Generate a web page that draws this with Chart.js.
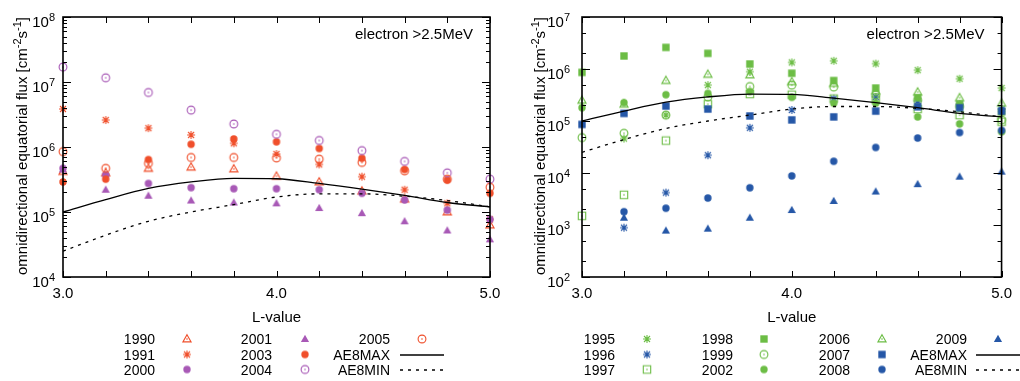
<!doctype html>
<html>
<head>
<meta charset="utf-8">
<title>electron &gt;2.5MeV</title>
<script src="https://cdn.jsdelivr.net/npm/chart.js@4.4.0/dist/chart.umd.min.js"></script>
<style>
  body { margin:0; background:#fff; width:1020px; height:381px; overflow:hidden; position:relative; }
  canvas { position:absolute; top:0; }
</style>
</head>
<body>
<canvas id="vasak" width="510" height="381" style="left:0"></canvas>
<canvas id="parem" width="510" height="381" style="left:510px"></canvas>
<script>
// L-values (x axis)
const L = [3.0, 3.2, 3.4, 3.6, 3.8, 4.0, 4.2, 4.4, 4.6, 4.8, 5.0];

// left panel
const y1990 = [4.2e5, 4.0e5, 4.7e5, 4.9e5, 4.6e5, 3.55e5, 2.9e5, 2.1e5, 1.58e5, 1.0e5, 6.3e4];
const y1991 = [3.85e6, 2.6e6, 1.95e6, 1.53e6, 1.14e6, 7.8e5, 5.4e5, 3.5e5, 2.2e5, 1.36e5, 7.7e4];
const y2000 = [4.7e5, 3.7e5, 2.75e5, 2.37e5, 2.28e5, 2.28e5, 2.2e5, 1.94e5, 1.53e5, 1.07e5, 7.7e4];
const y2001 = [4.5e5, 2.2e5, 1.78e5, 1.5e5, 1.4e5, 1.36e5, 1.15e5, 9.6e4, 7.2e4, 5.2e4, 3.8e4];
const y2003 = [2.9e5, 3.2e5, 6.4e5, 1.1e6, 1.33e6, 1.2e6, 9.5e5, 6.7e5, 4.5e5, 3.1e5, 1.94e5];
const y2004 = [1.7e7, 1.16e7, 6.9e6, 3.7e6, 2.26e6, 1.57e6, 1.26e6, 8.8e5, 6.0e5, 4.0e5, 3.2e5];
const y2005 = [8.5e5, 4.7e5, 5.6e5, 6.9e5, 6.9e5, 6.8e5, 6.5e5, 5.8e5, 4.3e5, 3.2e5, 2.4e5];

// right panel
const y1995 = [null, 4.6e4, 1.3e5, 4.9e5, 8.9e5, 1.34e6, 1.44e6, 1.27e6, 9.5e5, 6.5e5, 4.3e5];
const y1996 = [null, 890, 4.2e3, 2.2e4, 7.4e4, 1.63e5, 2.7e5, 2.9e5, 2.4e5, 2.1e5, 1.7e5];
const y1997 = [1.5e3, 3.8e3, 4.2e4, 2.1e5, 3.3e5, 3.2e5, 2.7e5, 2.6e5, 1.7e5, 1.3e5, 9.7e4];
const y1998 = [8.6e5, 1.78e6, 2.6e6, 2.0e6, 1.25e6, 8.3e5, 6.0e5, 4.3e5, 2.8e5, 2.1e5, 1.5e5];
const y1999 = [4.8e4, 5.8e4, 1.3e5, 2.9e5, 4.6e5, 4.9e5, 4.5e5, 3.2e5, 2.5e5, 1.9e5, 1.05e5];
const y2002 = [1.8e5, 2.25e5, 3.2e5, 3.4e5, 3.7e5, 2.85e5, 2.2e5, 2.2e5, 1.2e5, 8.8e4, 6.2e4];
const y2006 = [2.5e5, 2.1e5, 6.0e5, 7.9e5, 7.7e5, 5.7e5, 5.3e5, 3.8e5, 3.6e5, 2.8e5, 2.2e5];
const y2007 = [8.6e4, 1.4e5, 1.94e5, 1.7e5, 1.25e5, 1.05e5, 1.2e5, 1.55e5, 1.88e5, 1.8e5, 1.55e5];
const y2008 = [null, 1.8e3, 2.1e3, 3.3e3, 5.2e3, 8.8e3, 1.68e4, 3.1e4, 4.7e4, 6.0e4, 6.6e4];
const y2009 = [null, 1.38e3, 780, 850, 1.38e3, 1.94e3, 2.9e3, 4.4e3, 6.1e3, 8.5e3, 1.06e4];

// AE8 model curves (same in both panels)
const AE8MAX = [1.0e5, 1.55e5, 2.3e5, 2.9e5, 3.3e5, 3.25e5, 2.75e5, 2.25e5, 1.8e5, 1.4e5, 1.2e5];
const AE8MIN = [2.5e4, 4.4e4, 7.2e4, 1.0e5, 1.3e5, 1.7e5, 1.9e5, 1.9e5, 1.75e5, 1.5e5, 1.2e5];

const FONT = '"Liberation Sans", Arial, Helvetica, sans-serif';
const RED = '#f04f2b', PURPLE = '#a859b6', GREEN = '#6cbd45', BLUE = '#2557a7';

// gnuplot-like point symbols
function marker(kuju, varv, tais) {
  const c = document.createElement('canvas');
  c.width = c.height = 14;
  const g = c.getContext('2d');
  g.translate(7, 7);
  g.strokeStyle = varv; g.fillStyle = varv; g.lineWidth = 1.1;
  g.beginPath();
  if (kuju === 'circle') g.arc(0, 0, tais ? 3.7 : 3.9, 0, Math.PI * 2);
  else if (kuju === 'square') g.rect(-3.7, -3.7, 7.4, 7.4);
  else if (kuju === 'tri') { g.moveTo(0, -4.3); g.lineTo(4.1, 2.9); g.lineTo(-4.1, 2.9); g.closePath(); }
  else if (kuju === 'star') {
    g.moveTo(-4, 0); g.lineTo(4, 0); g.moveTo(0, -4); g.lineTo(0, 4);
    g.moveTo(-3, -3); g.lineTo(3, 3); g.moveTo(-3, 3); g.lineTo(3, -3);
  }
  if (tais) g.fill(); else g.stroke();
  if (!tais && kuju !== 'star') { g.beginPath(); g.arc(0, 0, 0.8, 0, Math.PI * 2); g.fill(); }
  return c;
}

const pts = arr => L.map((x, i) => ({ x: x, y: arr[i] })).filter(p => p.y != null);

function punktid(label, arr, kuju, varv, tais) {
  return { label: label, data: pts(arr), sym: marker(kuju, varv, tais), kind: 'p' };
}
function joon(label, arr, dash) {
  return { label: label, data: pts(arr), kind: 'l', dash: dash };
}

function ln(c, x0, y0, x1, y1) { c.beginPath(); c.moveTo(x0, y0); c.lineTo(x1, y1); c.stroke(); }

function astmeSilt(c, e, xr, y) {
  c.font = '15px ' + FONT;
  const wb = c.measureText('10').width;
  c.font = '11px ' + FONT;
  const we = c.measureText(String(e)).width;
  c.textAlign = 'left'; c.textBaseline = 'alphabetic';
  c.font = '15px ' + FONT; c.fillText('10', xr - we - wb, y + 9);
  c.font = '11px ' + FONT; c.fillText(String(e), xr - we, y + 3);
}

function yPealkiri(c, x, y) {
  const osad = [['omnidirectional equatorial flux [cm', 0], ['-2', 1], ['s', 0], ['-1', 1], [']', 0]];
  let w = 0;
  osad.forEach(o => { c.font = (o[1] ? '11px ' : '15px ') + FONT; w += c.measureText(o[0]).width; });
  c.save();
  c.translate(x, y); c.rotate(-Math.PI / 2);
  c.textAlign = 'left'; c.textBaseline = 'alphabetic';
  let px = -w / 2;
  osad.forEach(o => {
    c.font = (o[1] ? '11px ' : '15px ') + FONT;
    c.fillText(o[0], px, o[1] ? -6 : 0);
    px += c.measureText(o[0]).width;
  });
  c.restore();
}

function deco(o) {
  return {
    id: 'deco',
    afterDraw(chart) {
      const c = chart.ctx, a = chart.chartArea, xs = chart.scales.x, ys = chart.scales.y;
      c.save();
      c.strokeStyle = '#000'; c.fillStyle = '#000'; c.lineWidth = 1;
      xs.ticks.forEach(t => {
        const px = Math.round(xs.getPixelForValue(t.value)) + 0.5;
        ln(c, px, a.bottom, px, a.bottom - 6);
        ln(c, px, a.top, px, a.top + 6);
      });
      for (let e = o.e0; e <= o.e1; e++) {
        const py = Math.round(ys.getPixelForValue(Math.pow(10, e))) + 0.5;
        ln(c, a.left, py, a.left + 8, py); ln(c, a.right, py, a.right - 8, py);
        astmeSilt(c, e, a.left - o.gap, py);
        if (e < o.e1) o.minor.forEach(m => {
          const p = Math.round(ys.getPixelForValue(m * Math.pow(10, e))) + 0.5;
          ln(c, a.left, p, a.left + 4, p); ln(c, a.right, p, a.right - 4, p);
        });
      }
      c.lineWidth = 1.6;
      c.strokeRect(a.left, a.top, a.right - a.left, a.bottom - a.top);

      c.font = '15px ' + FONT;
      c.textBaseline = 'alphabetic';
      c.textAlign = 'right';
      c.fillText('electron >2.5MeV', a.right - 17, 38.5);
      c.textAlign = 'center';
      c.fillText('L-value', (a.left + a.right) / 2, 321.5);
      yPealkiri(c, o.titleX, 146);

      // legend, column by column
      const sari = chart.data.datasets;
      sari.forEach((ds, i) => {
        const col = Math.floor(i / 3), row = o.rows[i % 3];
        c.font = '14px ' + FONT; c.textAlign = 'right'; c.fillStyle = '#000';
        c.fillText(ds.label, o.textR[col], row + 5);
        const sx = o.symX[col];
        if (ds.kind === 'p') c.drawImage(ds.sym, sx - 7, row - 7);
        else {
          c.lineWidth = 1.3; c.strokeStyle = '#000';
          c.setLineDash(ds.dash || []);
          ln(c, sx - 22, row + 0.5, sx + 22, row + 0.5);
          c.setLineDash([]);
        }
      });
      c.restore();
    }
  };
}

function graafik(id, sarjad, o) {
  const datasets = sarjad.map((s, i) => {
    if (s.kind === 'p') {
      return { label: s.label, data: s.data, sym: s.sym, kind: 'p', pointStyle: s.sym, pointRadius: 4,
               showLine: false, clip: false, order: -i };
    }
    return { label: s.label, data: s.data, kind: 'l', dash: s.dash, showLine: true, pointRadius: 0,
             borderColor: '#000', borderWidth: 1.3, borderDash: s.dash || [], cubicInterpolationMode: 'monotone',
             fill: false, order: -i };
  });
  return new Chart(document.getElementById(id), {
    type: 'scatter',
    data: { datasets: datasets },
    options: {
      responsive: false, animation: false, events: [],
      layout: { padding: { top: 17, right: o.padR, left: 0, bottom: 0 } },
      plugins: { legend: { display: false }, tooltip: { enabled: false } },
      scales: {
        x: {
          type: 'linear', min: 3, max: 5,
          ticks: { stepSize: 0.2, autoSkip: false, maxRotation: 0, padding: 8, color: '#000',
                   font: { family: FONT, size: 15 },
                   callback: v => Math.abs(v - Math.round(v)) < 1e-6 ? Number(v).toFixed(1) : '' },
          grid: { display: false, drawTicks: false }, border: { display: false },
          afterFit: s => { s.height = 104; }
        },
        y: {
          type: 'logarithmic', min: Math.pow(10, o.e0), max: Math.pow(10, o.e1),
          ticks: { display: false }, grid: { display: false, drawTicks: false }, border: { display: false },
          afterFit: s => { s.width = o.axisL; }
        }
      }
    },
    plugins: [deco(o)]
  });
}

graafik('vasak', [
  punktid('1990', y1990, 'tri', RED, false),
  punktid('1991', y1991, 'star', RED, false),
  punktid('2000', y2000, 'circle', PURPLE, true),
  punktid('2001', y2001, 'tri', PURPLE, true),
  punktid('2003', y2003, 'circle', RED, true),
  punktid('2004', y2004, 'circle', PURPLE, false),
  punktid('2005', y2005, 'circle', RED, false),
  joon('AE8MAX', AE8MAX, null),
  joon('AE8MIN', AE8MIN, [3, 5])
], { e0: 4, e1: 8, minor: [2, 3, 4, 5, 6, 7, 8, 9], axisL: 63, padR: 20, gap: 8, titleX: 27,
     textR: [155, 272, 390], symX: [187, 305, 422], rows: [339, 354.5, 369.5] });

graafik('parem', [
  punktid('1995', y1995, 'star', GREEN, false),
  punktid('1996', y1996, 'star', BLUE, false),
  punktid('1997', y1997, 'square', GREEN, false),
  punktid('1998', y1998, 'square', GREEN, true),
  punktid('1999', y1999, 'circle', GREEN, false),
  punktid('2002', y2002, 'circle', GREEN, true),
  punktid('2006', y2006, 'tri', GREEN, false),
  punktid('2007', y2007, 'square', BLUE, true),
  punktid('2008', y2008, 'circle', BLUE, true),
  punktid('2009', y2009, 'tri', BLUE, true),
  joon('AE8MAX', AE8MAX, null),
  joon('AE8MIN', AE8MIN, [3, 5])
], { e0: 2, e1: 7, minor: [2, 5], axisL: 72, padR: 11, gap: 12, titleX: 35,
     textR: [105, 223, 340, 457], symX: [137, 254, 372, 488], rows: [339, 354.5, 369.5] });
</script>
</body>
</html>
